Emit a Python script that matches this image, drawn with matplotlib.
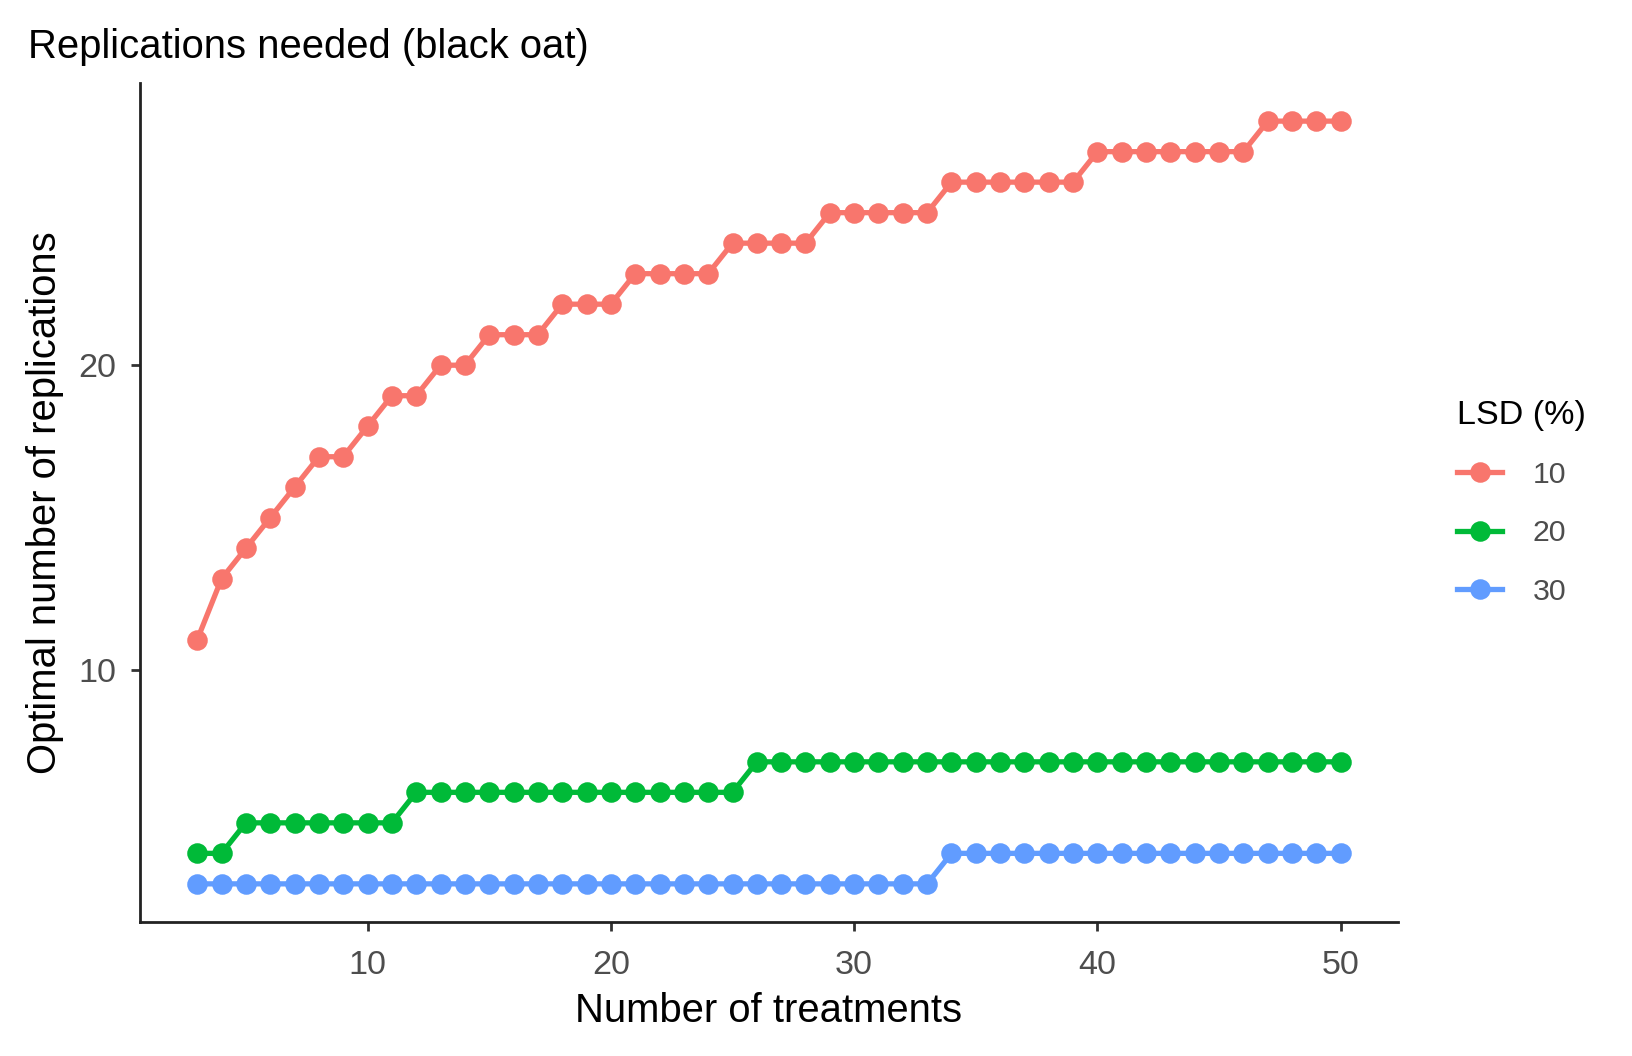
import numpy as np
import matplotlib
matplotlib.use("Agg")
import matplotlib.pyplot as plt

plt.rcParams['font.family'] = ['Liberation Sans', 'DejaVu Sans']

# number of treatments
treatments = list(range(3, 51))

# optimal replications per LSD level
reps_10 = [11, 13, 14, 15, 16, 17, 17, 18, 19, 19, 20, 20, 21, 21, 21, 22, 22, 22,
           23, 23, 23, 23, 24, 24, 24, 24, 25, 25, 25, 25, 25, 26, 26, 26, 26, 26, 26,
           27, 27, 27, 27, 27, 27, 27, 28, 28, 28, 28]
reps_20 = [4, 4] + [5] * 7 + [6] * 14 + [7] * 25
reps_30 = [3] * 31 + [4] * 17

lsd_labels = ['10', '20', '30']
colors = ['#F8766D', '#00BA38', '#619CFF']

fig = plt.figure(figsize=(8.16, 5.28), dpi=200)
ax = fig.add_axes([0.0858, 0.1269, 0.7708, 0.7945])

for ys, lab, col in zip([reps_10, reps_20, reps_30], lsd_labels, colors):
    ax.plot(treatments, ys, color=col, lw=1.9, marker='o', ms=6.4, label=lab)

ax.set_xlim(0.65, 52.35)
ax.set_ylim(1.75, 29.25)
ax.set_xticks([10, 20, 30, 40, 50])
ax.set_yticks([10, 20])

for s in ['top', 'right']:
    ax.spines[s].set_visible(False)
for s in ['left', 'bottom']:
    ax.spines[s].set_linewidth(1.0)
    ax.spines[s].set_color('#222222')
ax.tick_params(length=3.1, width=1.0, color='#333333', labelsize=12.3,
               labelcolor='#4D4D4D')
ax.tick_params(axis='x', pad=6.9)
ax.tick_params(axis='y', pad=5.5)

ax.set_xlabel('Number of treatments', fontsize=14.4, labelpad=4)
ax.set_ylabel('Optimal number of replications', fontsize=14.4, labelpad=5)
ax.set_title('Replications needed (black oat)', fontsize=14.4, loc='left',
             x=-0.089, pad=9)

leg = fig.legend(*ax.get_legend_handles_labels(), title='LSD (%)',
                 loc='center left', bbox_to_anchor=(0.893, 0.524),
                 bbox_transform=fig.transFigure, frameon=False, borderpad=0,
                 borderaxespad=0, fontsize=10.9, title_fontsize=12.3,
                 handlelength=1.49, labelspacing=1.0, handletextpad=1.0)
leg._legend_box.align = 'left'
for t in leg.get_texts():
    t.set_color('#4D4D4D')

fig.savefig('out.png', dpi=200)
